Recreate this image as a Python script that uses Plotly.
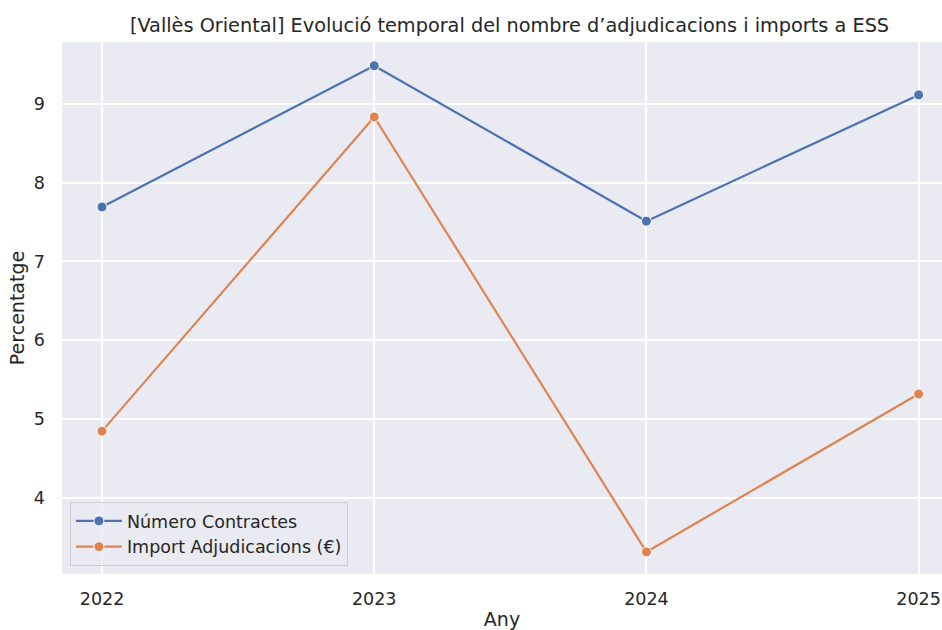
import plotly.graph_objects as go

years = [2022, 2023, 2024, 2025]
num_contractes = [7.69, 9.48, 7.51, 9.11]
import_adjudicacions = [4.85, 8.83, 3.32, 5.32]
series_names = ["Número Contractes", "Import Adjudicacions (€)"]
title_text = "[Vallès Oriental] Evolució temporal del nombre d’adjudicacions i imports a ESS"

colors = ["#4c72b0", "#dd8452"]
txt = "#262626"
font = "DejaVu Sans"

fig = go.Figure()
for name, vals, c in zip(series_names, [num_contractes, import_adjudicacions], colors):
    fig.add_trace(go.Scatter(
        x=years, y=vals, mode="lines+markers", name=name,
        line=dict(color=c, width=2.2),
        marker=dict(color=c, size=10, line=dict(color="white", width=1)),
    ))

fig.update_layout(
    width=942, height=630,
    margin=dict(l=62, r=0, t=42, b=56, autoexpand=False),
    paper_bgcolor="white", plot_bgcolor="#eaeaf2",
    font=dict(family=font, color=txt, size=17),
    title=dict(text=title_text, x=509.5 / 942, xanchor="center", xref="container",
               y=1 - 25 / 630, yanchor="middle", font=dict(size=19.3, color=txt),
               automargin=False),
    showlegend=True,
    legend=dict(x=0.009, y=0.015, xanchor="left", yanchor="bottom",
                bgcolor="rgba(234,234,242,0.8)", bordercolor="#cccccc", borderwidth=1,
                font=dict(size=17.5, color=txt), itemwidth=46, tracegroupgap=0),
)
fig.update_xaxes(
    range=[2021.853, 2025.086], tickvals=years, ticktext=[str(y) for y in years],
    showgrid=True, gridcolor="white", gridwidth=1.5, zeroline=False, showline=False,
    ticks="", ticklabelstandoff=12, tickfont=dict(size=17.5, color=txt),
    title=dict(text="Any", font=dict(size=19, color=txt), standoff=11),
    automargin=False,
)
fig.update_yaxes(
    range=[3.04, 9.78], dtick=1, tick0=0,
    showgrid=True, gridcolor="white", gridwidth=1.5, zeroline=False, showline=False,
    ticks="", ticklabelstandoff=16, tickfont=dict(size=17.5, color=txt),
    title=dict(text="Percentatge", font=dict(size=19, color=txt), standoff=4),
    automargin=False,
)

fig.write_html(
    "out.html",
    config={"displayModeBar": False},
    post_script="document.body.style.margin='0';document.body.style.overflow='hidden';",
)
